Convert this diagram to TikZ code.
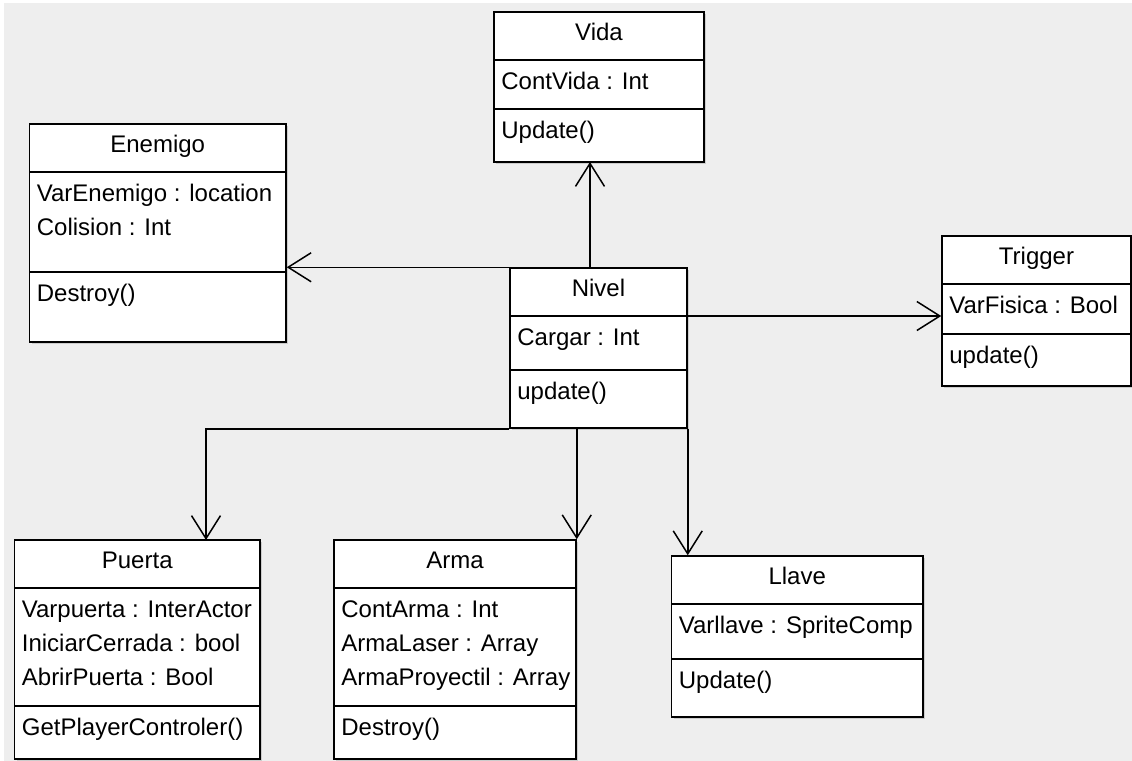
\documentclass[tikz,border=0pt]{standalone}
\usepackage{fontspec}
\setmainfont{Liberation Sans}
\usetikzlibrary{arrows.meta,fit,shadows}
\definecolor{fondo}{RGB}{238,238,238}
\tikzset{
  clase/.style={draw, line width=.75pt, fill=white, inner sep=0pt,
    drop shadow={shadow xshift=1pt, shadow yshift=-1pt, opacity=.3}},
  linea/.style={line width=.75pt},
  texto/.style={anchor=base west, inner sep=0pt, font=\fontsize{12}{14}\selectfont},
  titulo/.style={anchor=base, inner sep=0pt, font=\fontsize{12}{14}\selectfont},
  asoc/.style={line width=.75pt, -{Straight Barb[length=11.5pt,width=14.5pt]}},
}
%% #1 name, #2 #3 top left, #4 #5 bottom right, #6 second rule,
%% #7 title, #8 attributes, #9 methods
\newcommand\clase[9]{%
  \node[clase, fit={(#2,#3) (#4,#5)}] (#1) {};%
  \coordinate (#1-d) at (#2,#3+48);%
  \draw[linea] (#1-d) -- (#4,#3+48);%
  \draw[linea] (#2,#6) -- (#4,#6);%
  \node[titulo] (#1-t) at ({(#2+#4)/2},#3+28) {#7};%
  \foreach \t [count=\i] in {#8} \node[texto] (#1-a\i) at
  ({#2+7},{#3+77+(\i-1)*34}) {\t};%
  \foreach \t [count=\i] in {#9} \node[texto] (#1-m\i) at
  ({#2+7},{#6+29+(\i-1)*34}) {\t};%
}
\begin{document}
\begin{tikzpicture}[x=.5pt,y=-.5pt] %% pixel units, y going down
  \useasboundingbox (0,0) rectangle (1132,761);
  \fill[white] (0,0) rectangle (1132,761);
  \fill[fondo] (4,3) rectangle (1132,761);

  \clase{vida}{494}{12}{704}{162}{109}{Vida}{ContVida : Int}{Update()}
  \clase{enemigo}{29.5}{124}{286}{342}{272}{Enemigo}
  {VarEnemigo : location, Colision : Int}{Destroy()}
  \clase{nivel}{510}{268}{687}{428}{370}{Nivel}{Cargar : Int}{update()}
  \clase{trigger}{942}{236}{1131}{386}{334}{Trigger}{VarFisica : Bool}{update()}
  \clase{puerta}{14.5}{540}{260}{759}{706}{Puerta}
  {Varpuerta : InterActor, IniciarCerrada : bool, AbrirPuerta : Bool}
  {GetPlayerControler()}
  \clase{arma}{334}{540}{576}{759}{706}{Arma}
  {ContArma : Int, ArmaLaser : Array, ArmaProyectil : Array}{Destroy()}
  \clase{llave}{671.5}{556}{923}{717}{659}{Llave}{Varllave : SpriteComp}{Update()}

  % associations going out of Nivel
  \coordinate (vida-in) at (590,162);
  \coordinate (puerta-in) at (206,540);
  \draw[asoc] (vida-in |- nivel.north) -- (vida-in);
  \draw[asoc] (nivel.north west) -- (nivel.north west -| enemigo.east);
  \draw[asoc] (nivel-d -| nivel.east) -- (nivel-d -| trigger.west);
  \draw[asoc] (nivel.south west) -| (puerta-in);
  \draw[asoc] (arma.north east |- nivel.south) -- (arma.north east);
  \draw[asoc] (nivel.south east) -- (nivel.south east |- llave.north);
\end{tikzpicture}
\end{document}
